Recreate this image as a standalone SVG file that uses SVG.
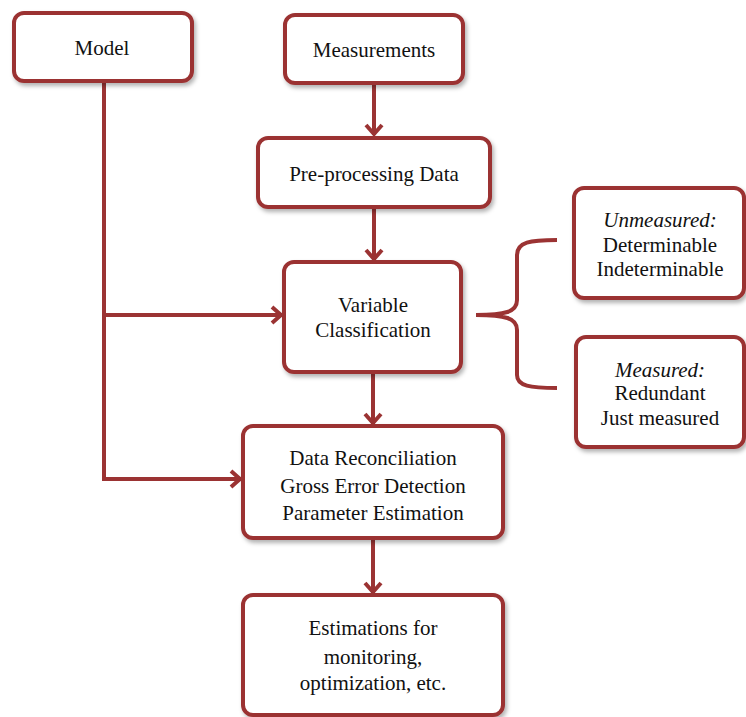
<svg xmlns="http://www.w3.org/2000/svg" width="746" height="717" viewBox="0 0 746 717">
<style>
.box{fill:#fff;stroke:#9b3333;stroke-width:4;filter:url(#sh)}
.ln{fill:none;stroke:#9b3333;stroke-width:4}
text{font-size:21px;fill:#111;text-anchor:middle}
.it{font-style:italic}
</style>
<defs>
<filter id="sh" x="-10%" y="-10%" width="130%" height="130%">
<feDropShadow dx="2" dy="3" stdDeviation="2" flood-color="#000" flood-opacity="0.3"/>
</filter>
<marker id="ah" markerUnits="userSpaceOnUse" markerWidth="24" markerHeight="24" viewBox="-12 -12 24 24" refX="0" refY="0" orient="auto">
<path d="M-10,-8 L-1,0 L-10,8" fill="none" stroke="#9b3333" stroke-width="4"/>
</marker>
</defs>
<g id="connectors">
<path class="ln" d="M374,83 L374,135" marker-end="url(#ah)"/>
<path class="ln" d="M374,207 L374,260" marker-end="url(#ah)"/>
<path class="ln" d="M373,372 L373,424" marker-end="url(#ah)"/>
<path class="ln" d="M373,538 L373,593" marker-end="url(#ah)"/>
<path class="ln" d="M104,81 L104,479 L241,479" marker-end="url(#ah)"/>
<path class="ln" d="M104,315 L282,315" marker-end="url(#ah)"/>
<path class="ln" d="M557,240 C530,240 517,242 517,255 L517,300 C517,312 505,315 476,315 C505,315 517,318 517,330 L517,375 C517,386 530,388 557,388"/>
</g>
<g font-family="'Liberation Serif', 'Times New Roman', serif">
<g id="model"><rect class="box" x="14" y="13" width="178" height="68" rx="10"/><text x="102" y="55">Model</text></g>
<g id="measurements"><rect class="box" x="285" y="15" width="178" height="68" rx="10"/><text x="374" y="57">Measurements</text></g>
<g id="preprocessing"><rect class="box" x="258" y="138" width="232" height="69" rx="10"/><text x="374" y="181">Pre-processing Data</text></g>
<g id="classification"><rect class="box" x="284" y="262" width="177" height="110" rx="10"/><text x="373" y="312">Variable</text><text x="373" y="337">Classification</text></g>
<g id="reconciliation"><rect class="box" x="243" y="426" width="260" height="112" rx="10"/><text x="373" y="465">Data Reconciliation</text><text x="373" y="493">Gross Error Detection</text><text x="373" y="520">Parameter Estimation</text></g>
<g id="estimations"><rect class="box" x="243" y="595" width="260" height="120" rx="10"/><text x="373" y="635">Estimations for</text><text x="373" y="664">monitoring,</text><text x="373" y="690">optimization, etc.</text></g>
<g id="unmeasured"><rect class="box" x="574" y="188" width="170" height="110" rx="10"/><text x="660" y="227" class="it">Unmeasured:</text><text x="660" y="252">Determinable</text><text x="660" y="276">Indeterminable</text></g>
<g id="measured"><rect class="box" x="576" y="337" width="168" height="110" rx="10"/><text x="660" y="377" class="it">Measured:</text><text x="660" y="400">Redundant</text><text x="660" y="425">Just measured</text></g>
</g>
</svg>
